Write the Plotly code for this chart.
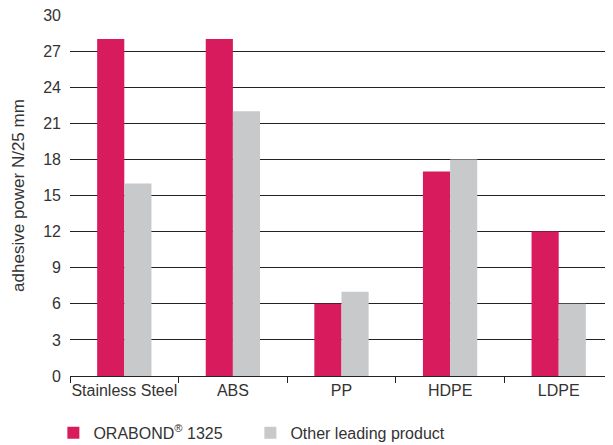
import plotly.graph_objects as go

categories = ["Stainless Steel", "ABS", "PP", "HDPE", "LDPE"]
orabond = [28, 28, 6, 17, 12]
other = [16, 22, 7, 18, 6]
y_ticks = [0, 3, 6, 9, 12, 15, 18, 21, 24, 27, 30]

font_family = "Liberation Sans, Arial, sans-serif"
text_color = "#333333"

fig = go.Figure()
fig.add_trace(go.Bar(x=categories, y=orabond, name="ORABOND<sup>®</sup> 1325",
                     marker=dict(color="#D81B5C", line=dict(width=0))))
fig.add_trace(go.Bar(x=categories, y=other, name="Other leading product",
                     marker=dict(color="#C8C9CB", line=dict(width=0))))

fig.update_layout(
    width=605, height=437,
    margin=dict(l=62, r=0, t=7, b=69),
    paper_bgcolor="white", plot_bgcolor="white",
    barmode="group", bargap=0.5, bargroupgap=0,
    font=dict(family=font_family, size=16, color=text_color),
    showlegend=True,
    legend=dict(orientation="h", xref="container", x=0.075, xanchor="left",
                yref="container", y=0.028, yanchor="middle",
                font=dict(size=16, color=text_color), itemwidth=30, entrywidth=152,
                traceorder="normal", bgcolor="rgba(0,0,0,0)"),
)
fig.update_xaxes(
    type="category", tickson="boundaries", ticks="outside", ticklen=6, tickangle=0,
    tickcolor="#222222", tickwidth=1, showline=True, linecolor="#222222", linewidth=1,
    showgrid=False, tickfont=dict(size=16, color=text_color), automargin=False,
)
fig.update_yaxes(
    range=[0, 30], tickvals=y_ticks, showgrid=True, gridcolor="#222222", gridwidth=1,
    zeroline=False, showline=False, ticks="", ticklabelstandoff=8,
    ticklabeloverflow="allow",
    tickfont=dict(size=16, color=text_color), automargin=False,
    title=dict(text="adhesive power N/25 mm", font=dict(size=17, color=text_color), standoff=14),
)

fig.write_html("out.html")
